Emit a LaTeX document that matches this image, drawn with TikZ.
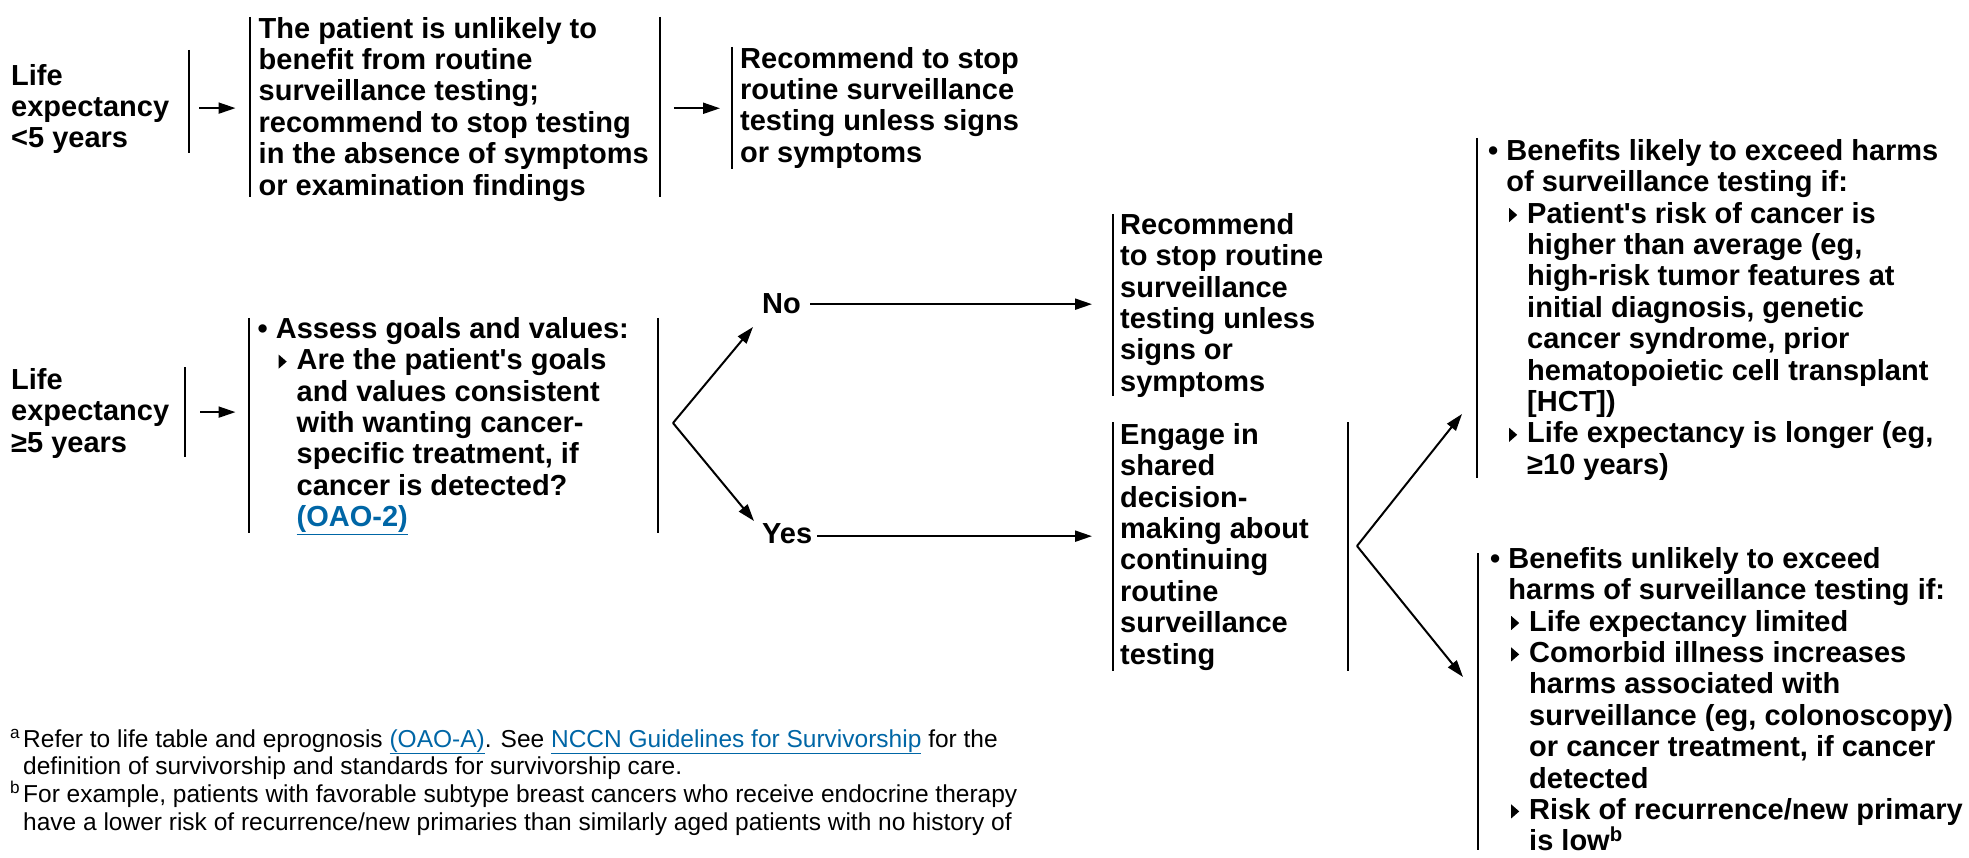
\documentclass[tikz,border=0pt]{standalone}
\usepackage{fontspec}
\setmainfont{Liberation Sans}
\usetikzlibrary{arrows.meta}
\definecolor{linkblue}{RGB}{0,102,166}
% strut that fixes the top of every text block 23pt above its first baseline
\newcommand\topst{\rule{0pt}{23pt}}
% small solid right-pointing triangle used for sub-items
\newcommand\tri{\tikz[baseline=0pt]\fill (0pt,1pt) -- (0pt,15pt) -- (8pt,8pt) -- cycle;}
\newcommand\ulink[1]{\textcolor{linkblue}{\underline{#1}}}
\newcommand\subitm{\hspace*{21pt}\tri\hspace*{10pt}}
\newcommand\subind{\hspace*{39pt}}
\newcommand\bulind{\hspace*{18.2pt}}
\begin{document}
\begin{tikzpicture}[x=1pt,y=-1pt,
  txt/.style={inner sep=0pt, anchor=north west, align=left,
    font=\fontsize{29pt}{31.4pt}\selectfont\bfseries},
  lbl/.style={inner sep=0pt, anchor=base west,
    font=\fontsize{29pt}{31.4pt}\selectfont\bfseries},
  fnote/.style={inner sep=0pt, anchor=north west, align=left,
    font=\fontsize{24.5pt}{27.7pt}\selectfont},
  bar/.style={line width=2.4pt},
  arr/.style={line width=2pt, -{Triangle[length=17pt,width=11pt]}}]
\useasboundingbox (0,0) rectangle (1969,858);

% ---- life expectancy < 5 years ----
\node[txt] (L1) at (11,62) {\topst Life\\expectancy\\<5 years};
\node[txt] (T1) at (258.5,15) {\topst The patient is unlikely to\\benefit from routine\\surveillance testing;\\recommend to stop testing\\in the absence of symptoms\\or examination findings};
\node[txt] (R1) at (740,45) {\topst Recommend to stop\\routine surveillance\\testing unless signs\\or symptoms};
\draw[bar] (189,50) -- (189,153);
\draw[bar] (250,17) -- (250,197);
\draw[bar] (660,17) -- (660,197);
\draw[bar] (732,47) -- (732,169);
\draw[arr] ([xshift=30pt]L1.east) -- ([xshift=-23pt]L1.east -| T1.west);
\draw[arr] ([xshift=25pt]T1.east) -- ([xshift=-20pt]T1.east -| R1.west);

% ---- life expectancy >= 5 years ----
\node[txt] (L2) at (11,366) {\topst Life\\expectancy\\≥5 years};
\node[txt] (A) at (257.5,315) {\topst \textbullet\ Assess goals and values:\\
  \subitm Are the patient\textquotesingle s goals\\
  \subind and values consistent\\
  \subind with wanting cancer-\\
  \subind specific treatment, if\\
  \subind cancer is detected?\\
  \subind\ulink{(OAO-2)}};
\draw[bar] (185,367) -- (185,457);
\draw[bar] (249,318) -- (249,533);
\draw[bar] (658,318) -- (658,533);
\draw[arr] ([xshift=31pt]L2.east) -- ([xshift=-22pt]L2.east -| A.west);

\node[lbl] (No) at (762,314) {No};
\node[lbl] (Yes) at (762,543) {Yes};
\coordinate (f1) at (673,423);
\coordinate (f1a) at (753,327);
\coordinate (f1b) at (754,521);
\draw[arr] (f1) -- (f1a);
\draw[arr] (f1) -- (f1b);

\node[txt] (N) at (1120,211) {\topst Recommend\\to stop routine\\surveillance\\testing unless\\signs or\\symptoms};
\node[txt] (E) at (1120,421) {\topst Engage in\\shared\\decision-\\making about\\continuing\\routine\\surveillance\\testing};
\draw[bar] (1113,214) -- (1113,396);
\draw[bar] (1113,422) -- (1113,671);
\draw[bar] (1348,422) -- (1348,671);
\draw[arr] ([xshift=9pt]No.east) -- ([xshift=-28pt]No.east -| N.west);
\draw[arr] ([xshift=5pt,yshift=-3pt]Yes.east) -- ([xshift=-28pt,yshift=-3pt]Yes.east -| E.west);

% ---- benefits versus harms ----
\node[txt] (TR) at (1488,137) {\topst \textbullet\ Benefits likely to exceed harms\\
  \bulind of surveillance testing if:\\
  \subitm Patient\textquotesingle s risk of cancer is\\
  \subind higher than average (eg,\\
  \subind high-risk tumor features at\\
  \subind initial diagnosis, genetic\\
  \subind cancer syndrome, prior\\
  \subind hematopoietic cell transplant\\
  \subind [HCT])\\
  \subitm Life expectancy is longer (eg,\\
  \subind ≥10 years)};
\node[txt] (BR) at (1490,545) {\topst \textbullet\ Benefits unlikely to exceed\\
  \bulind harms of surveillance testing if:\\
  \subitm Life expectancy limited\\
  \subitm Comorbid illness increases\\
  \subind harms associated with\\
  \subind surveillance (eg, colonoscopy)\\
  \subind or cancer treatment, if cancer\\
  \subind detected\\
  \subitm Risk of recurrence/new primary\\
  \subind is low\textsuperscript{b}};
\draw[bar] (1477,138) -- (1477,478);
\draw[bar] (1478,553) -- (1478,850);
\coordinate (f2) at (1357,546);
\coordinate (f2a) at (1462,414);
\coordinate (f2b) at (1463,677);
\draw[arr] (f2) -- (f2a);
\draw[arr] (f2) -- (f2b);

% ---- footnotes ----
\node[fnote] (fn) at (10,724) {\topst\makebox[13pt][l]{\textsuperscript{a}}Refer to life table and eprognosis \ulink{(OAO-A)}. See \ulink{NCCN Guidelines for Survivorship} for the\\
  \hspace*{13pt}definition of survivorship and standards for survivorship care.\\
  \makebox[13pt][l]{\textsuperscript{b}}For example, patients with favorable subtype breast cancers who receive endocrine therapy\\
  \hspace*{13pt}have a lower risk of recurrence/new primaries than similarly aged patients with no history of};
\end{tikzpicture}
\end{document}
